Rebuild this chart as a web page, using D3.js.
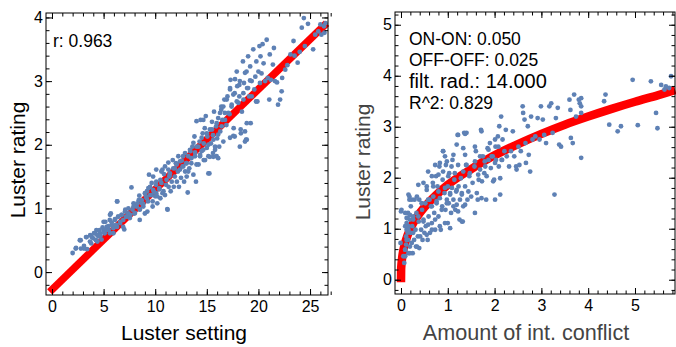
<!DOCTYPE html>
<html>
<head>
<meta charset="utf-8">
<script src="https://cdn.jsdelivr.net/npm/d3@7"></script>
<style>
  body { margin: 0; background: #fff; }
  svg { display: block; font-family: 'Liberation Sans', Arial, sans-serif; }
</style>
</head>
<body>
<div class="canvas"></div>
<script>
// ---------------- data ----------------
// left panel: luster setting vs luster rating
const settingPts = [
  [2.0,0.30],[2.3,0.37],[2.7,0.50],[2.8,0.37],[3.1,0.41],[3.3,0.55],[3.4,0.36],[3.7,0.58],[3.8,0.45],[4.0,0.53],
  [4.2,0.61],[4.3,0.66],[4.4,0.48],[4.5,0.56],[4.65,0.61],[4.8,0.51],[5.0,0.66],[5.0,0.79],[5.1,0.61],[5.3,0.71],
  [5.5,0.66],[5.6,0.82],[5.7,0.92],[5.8,0.74],[5.95,0.61],[6.1,0.82],[6.3,0.71],[6.3,1.11],[6.4,0.87],[6.6,0.77],
  [6.75,0.90],[6.9,0.82],[7.0,0.67],[7.1,0.98],[7.2,0.87],[7.4,0.92],[7.55,0.85],[7.7,1.33],[7.8,0.98],[7.9,1.08],
  [8.0,0.92],[8.2,1.03],[8.4,1.13],[8.5,0.82],[8.5,0.98],[8.7,1.08],[8.85,1.03],[9.0,0.92],[9.1,1.19],[9.2,1.27],
  [9.3,1.11],[9.4,1.53],[9.5,1.34],[9.65,1.21],[9.75,1.03],[9.8,1.29],[10.0,1.19],[10.1,1.42],[10.1,1.24],[10.2,1.08],
  [10.4,1.32],[10.5,1.16],[10.6,1.40],[10.7,1.61],[10.8,1.27],[10.95,1.21],[11.1,1.45],[11.2,0.98],[11.3,1.34],[11.4,1.53],
  [11.5,1.27],[11.6,1.42],[11.75,1.63],[11.8,1.34],[11.9,1.50],[12.0,1.71],[12.1,1.42],[12.2,1.58],[12.3,1.34],[12.4,1.74],
  [12.5,1.48],[12.65,1.66],[12.7,1.82],[12.8,1.42],[12.9,1.58],[13.0,1.71],[13.05,1.50],[13.15,1.25],[13.2,1.82],[13.3,1.63],
  [13.4,1.90],[13.5,1.71],[13.6,1.97],[13.7,1.53],[13.8,2.13],[13.85,1.82],[13.95,1.42],[14.0,1.97],[14.2,1.69],[14.3,2.05],
  [14.35,1.84],[14.4,2.39],[14.5,1.90],[14.6,2.18],[14.7,1.76],[14.7,2.02],[14.8,2.26],[14.9,2.45],[15.0,1.95],[15.05,2.13],
  [15.15,1.82],[15.25,1.55],[15.3,2.24],[15.4,2.02],[15.5,2.36],[15.6,1.87],[15.6,2.15],[15.7,2.52],[15.8,1.97],[15.9,2.29],
  [15.95,1.82],[16.0,2.10],[16.1,2.42],[16.2,1.97],[16.3,2.21],[16.4,2.55],[16.4,2.60],[16.5,2.39],[16.6,2.05],[16.7,2.71],
  [16.75,2.50],[16.9,2.31],[17.0,2.76],[17.25,2.87],[17.2,2.48],[17.3,3.02],[17.4,2.60],[17.6,2.26],[17.7,2.81],[17.7,2.13],
  [17.9,3.15],[17.95,2.92],[18.05,2.66],[18.15,2.76],[18.2,3.00],[18.3,2.18],[18.4,2.52],[18.5,3.31],[18.55,2.71],[18.6,2.97],
  [18.7,2.21],[18.8,2.08],[18.85,3.15],[18.9,2.89],[19.0,3.39],[19.1,2.76],[19.2,3.23],[19.25,2.34],[19.35,3.00],[19.5,3.50],
  [19.6,2.87],[19.7,3.07],[19.8,3.31],[19.9,2.68],[20.0,3.15],[20.1,3.55],[20.15,2.97],[20.2,3.39],[20.3,3.12],[20.4,3.58],
  [20.5,3.28],[20.65,3.00],[20.8,3.65],[20.9,3.05],[21.05,2.71],[21.1,3.42],[21.2,3.02],[21.4,3.26],[21.5,3.52],[21.6,3.00],
  [21.8,2.98],[21.9,2.63],[22.1,2.71],[22.25,2.84],[22.6,3.18],[23.1,3.42],[23.4,3.63],[23.8,3.29],[24.2,3.84],[24.4,3.99],
  [24.8,3.90],[25.3,3.50],[25.5,3.73],[25.8,3.78],[26.0,3.89],[26.1,3.73],[26.35,3.86],[26.4,3.76],[26.5,3.91],[22.8,3.25],
  [23.5,3.40],[24.0,3.46],[24.5,3.55],[22.3,3.05],
  [2.33,0.38],[2.78,0.50],[3.1,0.37],[3.36,0.55],[3.68,0.48],[3.85,0.55],[4.07,0.61],[4.26,0.50],[4.4,0.58],[4.6,0.66],
  [4.7,0.57],[4.9,0.70],[5.04,0.62],[5.17,0.79],[5.3,0.66],[5.46,0.72],[5.62,0.90],[5.62,0.61],[5.78,0.78],[5.94,0.69],
  [6.1,0.83],[6.2,0.74],[6.33,1.11],[6.43,0.87],[6.6,0.79],[6.75,0.90],[6.9,0.71],[7.07,0.95],[7.2,0.87],[7.4,1.00],
  [7.6,0.90],[7.9,1.03],[8.04,0.93],[8.27,1.08],[8.46,1.20],[8.53,0.99],[8.69,1.13],[8.85,1.07],[9.0,1.24],[9.17,1.16],
  [9.24,0.95],[9.34,1.32],[9.5,1.21],[9.66,1.40],[9.75,1.11],[9.88,1.26],[10.08,1.37],[10.2,1.19],[10.4,1.30],[10.5,1.45],
  [10.7,1.24],[10.85,1.54],[11.05,1.37],[11.17,0.99],[11.27,1.61],[11.37,1.50],
  [9.8,1.50],[10.1,1.61],[10.6,1.58],[10.95,1.66],[11.27,1.72],[11.43,1.55],[11.7,1.76],[11.9,1.63],[12.08,1.69],[12.24,1.82],
  [12.4,1.61],[12.57,1.75],[12.72,1.66],[12.89,1.87],[13.05,1.71],[13.2,1.58],[13.37,1.92],[13.5,1.79],[13.7,2.03],[13.86,1.88],
  [14.0,1.69],[14.18,1.97],[14.34,1.82],[14.5,2.11],[14.66,1.92],[14.83,1.76],[15.0,2.18],[15.15,2.00],[15.3,1.81],[15.5,2.24],
  [15.63,2.08],[15.8,1.92],[15.96,2.34],[16.1,2.16],[16.28,2.50],[16.44,2.29],[16.6,2.60],[16.76,2.39],[16.93,2.71],[17.08,2.50],
  [17.25,2.89],[17.41,2.63],[17.57,2.79],[17.73,3.03],[17.9,2.68],[18.15,2.94],[18.28,2.24],[18.54,2.81],[18.7,3.13],[18.87,2.34],
  [19.0,2.89],[19.19,3.01],[19.35,2.76],[19.77,2.68],[18.7,2.05],[18.87,2.08],[17.57,2.14],[16.1,1.79],[15.63,1.81],[15.15,1.55],
  [14.0,2.37],[14.66,2.39],[17.25,2.11],[18.2,1.97]
];
// fitted line, end points as drawn
const settingFitX = [-0.22, 26.6];
const settingFitY = [-0.31, 3.91];

// right panel: amount of int. conflict vs luster rating
const conflictPts = [
  [-0.01,0.72],[0.0,1.34],[0.07,0.33],[0.09,0.46],[0.09,0.59],[0.11,0.69],[0.11,0.85],[0.12,0.98],[0.12,1.11],[0.14,1.21],
  [0.14,0.92],[0.15,0.78],[0.15,1.31],[0.16,0.52],[0.16,1.05],[0.18,1.57],[0.18,1.63],[0.19,0.65],[0.19,1.18],[0.21,0.92],
  [0.21,1.44],[0.24,1.05],[0.25,0.52],[0.26,1.24],[0.28,0.78],[0.29,1.57],[0.31,0.98],[0.32,0.65],[0.33,1.31],[0.36,0.85],
  [0.38,1.14],[0.39,0.62],[0.39,1.57],[0.43,0.98],[0.45,1.37],[0.46,0.78],[0.48,1.18],[0.50,0.92],[0.52,1.50],[0.53,1.05],
  [0.55,1.83],[0.57,0.78],[0.59,1.24],[0.61,1.57],[0.62,0.92],[0.64,1.44],[0.66,1.11],[0.68,1.90],[0.69,1.63],[0.71,1.31],
  [0.73,0.98],[0.75,2.03],[0.76,1.50],[0.78,1.83],[0.80,1.24],[0.82,2.22],[0.83,1.60],[0.85,0.98],[0.88,1.44],[0.89,1.96],
  [0.90,2.52],[0.93,1.70],[0.95,1.37],[0.96,2.25],[0.98,1.57],[1.0,1.83],[1.0,1.11],[1.02,1.50],[1.03,2.09],[1.05,1.67],
  [1.07,1.31],[1.09,1.80],[1.10,2.35],[1.12,1.57],[1.14,1.96],[1.16,1.37],[1.18,1.73],[1.19,1.47],[1.21,2.84],[1.23,1.83],
  [1.25,1.18],[1.26,1.57],[1.28,1.99],[1.30,1.70],[1.32,1.14],[1.33,1.44],[1.35,2.88],[1.37,1.83],[1.39,2.25],[1.40,2.88],
  [1.42,1.57],[1.46,2.03],[1.50,1.63],[1.53,1.90],[1.57,2.22],[1.60,2.52],[1.64,1.57],[1.66,1.96],[1.69,2.16],[1.71,2.94],
  [1.73,1.93],[1.75,2.42],[1.78,2.09],[1.80,2.22],[1.82,1.57],[1.85,2.58],[1.87,2.35],[1.90,2.68],[1.92,2.19],[1.96,2.42],
  [1.99,1.96],[2.02,2.61],[2.03,2.35],[2.07,2.81],[2.09,2.22],[2.10,3.01],[2.12,1.67],[2.14,3.20],[2.16,2.35],[2.17,2.75],
  [2.21,2.52],[2.24,2.94],[2.26,2.42],[2.31,2.22],[2.35,2.52],[2.39,2.91],[2.42,2.42],[2.46,2.22],[2.47,2.16],[2.51,2.61],
  [2.53,2.25],[2.56,2.52],[2.60,3.40],[2.61,3.27],[2.64,3.14],[2.66,2.68],[2.67,2.29],[2.71,3.01],[2.73,2.45],[2.76,2.12],
  [2.78,3.20],[2.81,2.75],[2.87,2.81],[2.92,3.17],[2.96,2.75],[2.99,3.40],[3.03,3.14],[3.06,2.84],[3.10,2.68],[3.17,3.40],
  [3.21,3.46],[3.24,2.88],[3.28,1.67],[3.31,3.17],[3.35,3.37],[3.38,2.65],[3.42,2.61],[3.60,3.53],[3.62,3.33],[3.63,2.78],
  [3.67,2.68],[3.70,3.63],[3.74,3.20],[3.80,3.53],[3.82,3.46],[3.85,3.40],[3.85,3.27],[3.85,2.39],[3.85,3.56],[4.37,3.63],
  [4.34,3.50],[4.45,3.04],[4.63,2.91],[4.70,3.01],[4.95,3.92],[5.06,3.03],[5.34,3.89],[5.45,3.27],[5.48,2.97],[5.56,3.82],
  [5.63,3.73],[5.66,3.79],[5.73,3.76],[5.77,3.99],
  [1.22,2.84],[1.37,2.86],[1.72,2.91],[2.01,2.75],[1.19,2.65],[1.33,2.58],[1.58,2.61],[1.87,2.55],[2.08,2.61],[0.90,2.52],
  [0.94,2.42],[1.12,2.45],[1.37,2.45],[1.69,2.42],[1.94,2.42],[0.73,2.25],[0.83,2.29],[0.98,2.32],[1.08,2.22],[1.22,2.25],
  [1.40,2.25],[1.58,2.32],[1.79,2.32],[2.01,2.29],[2.15,2.35],[0.58,2.12],[0.66,2.03],[0.80,2.06],[0.90,2.12],[1.01,2.03],
  [1.15,2.09],[1.33,2.12],[1.47,2.09],[1.65,2.06],[1.83,2.03],[1.97,1.93],[2.12,1.99],[0.37,1.86],[0.48,1.90],[0.55,1.76],
  [0.69,1.83],[0.80,1.73],[0.94,1.80],[1.05,1.70],[1.19,1.76],[1.30,1.67],[1.44,1.73],[1.62,1.70],[1.72,1.60],[2.01,1.57],
  [0.16,1.67],[0.23,1.57],[0.34,1.63],[0.44,1.50],[0.58,1.57],[0.66,1.44],[0.76,1.54],[0.87,1.37],[0.98,1.50],[1.12,1.44],
  [1.22,1.34],[1.37,1.47],[1.58,1.31],[0.01,1.37],[0.09,1.31],[0.12,1.21],[0.19,1.27],[0.26,1.18],[0.37,1.24],[0.48,1.14],
  [0.58,1.08],[0.73,1.18],[0.83,1.05],[0.94,1.11],[1.05,1.01],[1.30,1.14],[0.09,1.05],[0.16,0.98],[0.26,0.92],[0.41,0.85],
  [0.55,0.88],[0.66,0.98],[0.12,0.78],[0.23,0.72],[0.34,0.65],[0.09,0.59],[0.19,0.52],[0.05,0.46]
];
// fitted curve
const conflictFitX = [0, 0.003, 0.01, 0.03, 0.06, 0.1, 0.2, 0.35, 0.5, 0.75, 1, 1.5, 2, 2.5, 3, 3.5, 4, 4.5, 5, 5.5, 5.86];
const conflictFitY = [-0.05, 0.2, 0.3, 0.47, 0.62, 0.76, 1.0, 1.24, 1.42, 1.66, 1.86, 2.17, 2.44, 2.66, 2.86, 3.04, 3.2, 3.35, 3.49, 3.62, 3.72];

// tick labels
const settingTicks = [0, 5, 10, 15, 20, 25];
const ratingTicksLeft = [0, 1, 2, 3, 4];
const conflictTicks = [0, 1, 2, 3, 4, 5];
const ratingTicksRight = [0, 1, 2, 3, 4, 5];

const leftNotes = ['r: 0.963'];
const rightNotes = ['ON-ON: 0.050', 'OFF-OFF: 0.025', 'filt. rad.: 14.000', 'R^2: 0.829'];

// ---------------- canvas ----------------
const width = 676;
const height = 347;

const svg = d3.select('.canvas')
    .append('svg')
    .attr('width', width)
    .attr('height', height);

// helper to build minor tick values
const range = (a, b, step) => d3.range(Math.round(a / step), Math.round(b / step) + 1).map(i => +(i * step).toFixed(4));

const drawPanel = (p) => {
    const x = d3.scaleLinear().domain(p.xDomain).range([p.left, p.right]);
    const y = d3.scaleLinear().domain(p.yDomain).range([p.bottom, p.top]);

    const g = svg.append('g');

    // fit line first, points go on top
    const fit = p.fitX.map((v, i) => [v, p.fitY[i]]);
    g.append('path')
        .datum(fit)
        .attr('fill', 'none')
        .attr('stroke', '#ff0000')
        .attr('stroke-width', p.fitWidth)
        .attr('d', d3.line().x(d => x(d[0])).y(d => y(d[1])).curve(d3.curveMonotoneX));

    g.selectAll('circle')
        .data(p.points)
        .enter()
        .append('circle')
            .attr('cx', d => x(d[0]))
            .attr('cy', d => y(d[1]))
            .attr('r', 2.4)
            .attr('fill', '#5e81b5');

    // frame with inward ticks on all four sides
    const xMinor = range(p.xMinorFrom, p.xDomain[1], p.xMinorStep).filter(v => v >= p.xDomain[0]);
    const yMinor = range(p.yMinorFrom, p.yDomain[1], p.yMinorStep).filter(v => v >= p.yDomain[0]);

    const addAxis = (axisFn, scale, pos, values, size, labels) => {
        const ax = axisFn(scale).tickValues(values).tickSizeInner(-size).tickSizeOuter(0);
        if (labels) ax.tickPadding(p.pad).tickFormat(d3.format('d'));
        else ax.tickFormat('');
        const grp = g.append('g').attr('transform', pos).call(ax);
        grp.select('.domain').remove();
        grp.selectAll('line').attr('stroke', '#000');
        grp.selectAll('text').attr('font-size', 16).attr('fill', '#000').attr('font-family', null);
        return grp;
    };

    addAxis(d3.axisBottom, x, `translate(0,${p.bottom})`, xMinor, 3.5, false);
    addAxis(d3.axisBottom, x, `translate(0,${p.bottom})`, p.xTicks, 6, true);
    addAxis(d3.axisTop, x, `translate(0,${p.top})`, xMinor, 3.5, false);
    addAxis(d3.axisTop, x, `translate(0,${p.top})`, p.xTicks, 6, false);
    addAxis(d3.axisLeft, y, `translate(${p.left},0)`, yMinor, 3.5, false);
    const yl = addAxis(d3.axisLeft, y, `translate(${p.left},0)`, p.yTicks, 6, true);
    yl.selectAll('text').attr('x', -3);
    addAxis(d3.axisRight, y, `translate(${p.right},0)`, yMinor, 3.5, false);
    addAxis(d3.axisRight, y, `translate(${p.right},0)`, p.yTicks, 6, false);

    g.append('rect')
        .attr('x', p.left)
        .attr('y', p.top)
        .attr('width', p.right - p.left)
        .attr('height', p.bottom - p.top)
        .attr('fill', 'none')
        .attr('stroke', '#000')
        .attr('stroke-width', 1);

    // axis titles
    g.append('text')
        .attr('x', p.xTitleX)
        .attr('y', 340)
        .attr('text-anchor', 'middle')
        .attr('font-size', p.titleSize)
        .attr('fill', p.titleColor)
        .text(p.xTitle);

    g.append('text')
        .attr('transform', `translate(${p.yTitleX},${p.yTitleY}) rotate(-90)`)
        .attr('text-anchor', 'middle')
        .attr('font-size', 21)
        .attr('fill', p.titleColor)
        .text(p.yTitle);

    // notes in the top left corner
    g.selectAll('.note')
        .data(p.notes)
        .enter()
        .append('text')
            .attr('class', 'note')
            .attr('x', p.noteX)
            .attr('y', (d, i) => p.noteY + i * 21.3)
            .attr('font-size', (d, i) => p.noteSizes[i])
            .attr('fill', '#000')
            .text(d => d);
};

drawPanel({
    left: 46, right: 328, top: 13, bottom: 295,
    xDomain: [-0.58, 26.74], yDomain: [-0.36, 4.07],
    xTicks: settingTicks, yTicks: ratingTicksLeft,
    xMinorFrom: 0, xMinorStep: 1, yMinorFrom: -0.2, yMinorStep: 0.2,
    pad: 6,
    points: settingPts, fitX: settingFitX, fitY: settingFitY, fitWidth: 7.5,
    xTitle: 'Luster setting', xTitleX: 184, titleSize: 21,
    yTitle: 'Luster rating', yTitleX: 25, yTitleY: 160,
    titleColor: '#000',
    notes: leftNotes, noteSizes: [17.5], noteX: 53, noteY: 47
});

drawPanel({
    left: 395, right: 675, top: 12, bottom: 294,
    xDomain: [-0.128, 5.855], yDomain: [-0.28, 5.25],
    xTicks: conflictTicks, yTicks: ratingTicksRight,
    xMinorFrom: 0, xMinorStep: 0.2, yMinorFrom: -0.2, yMinorStep: 0.2,
    pad: 6,
    points: conflictPts, fitX: conflictFitX, fitY: conflictFitY, fitWidth: 8.5,
    xTitle: 'Amount of int. conflict', xTitleX: 526, titleSize: 21.6,
    yTitle: 'Luster rating', yTitleX: 370, yTitleY: 162,
    titleColor: '#444',
    notes: rightNotes, noteSizes: [17.5, 17.5, 20, 17.5], noteX: 409, noteY: 45
});
</script>
</body>
</html>
